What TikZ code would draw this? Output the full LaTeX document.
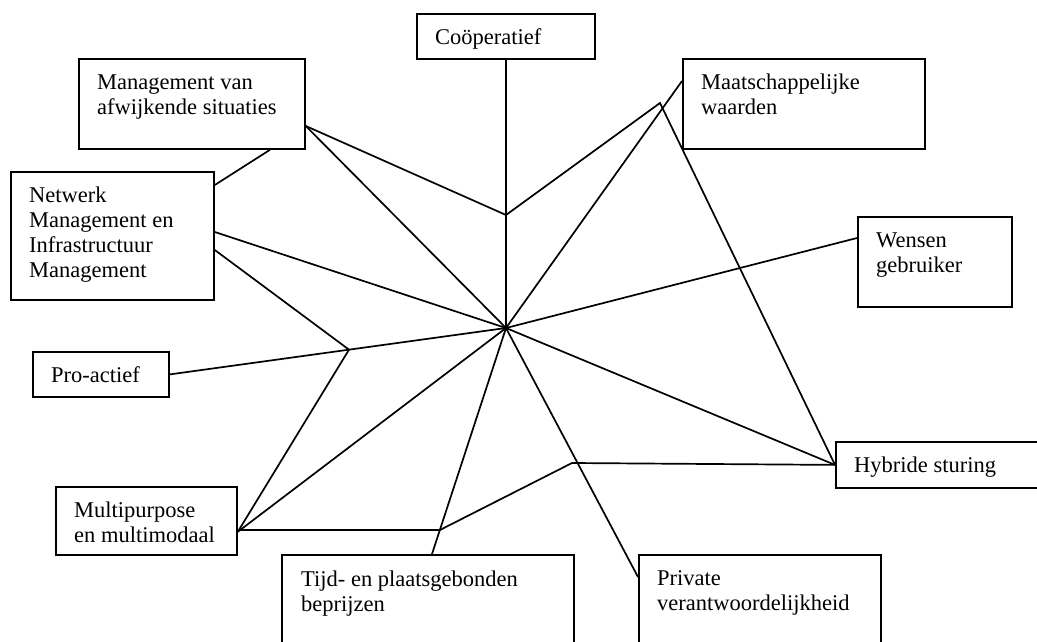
\documentclass[tikz,border=0pt]{standalone}
\usepackage{fontspec}
\setmainfont{Liberation Serif}
\usetikzlibrary{calc}
\newcommand{\fl}{\rule{0pt}{17.5pt}}
\tikzset{
  box/.style={draw, rectangle, anchor=north west, inner sep=0pt, line width=1.8pt},
  lbl/.style={anchor=north west, align=left, inner sep=0pt, font=\fontsize{22.5}{25}\selectfont},
  link/.style={line width=1.7pt, line join=miter}
}
\begin{document}
\begin{tikzpicture}[x=1pt, y=-1pt]
\clip (0,0) rectangle (1037,642);
\fill[white] (0,0) rectangle (1037,642);
% boxes
\node[box, minimum width=178pt, minimum height=45pt] (coop) at (416,13) {};
\node[box, minimum width=226pt, minimum height=90pt] (mgmt) at (78,58) {};
\node[box, minimum width=203pt, minimum height=128pt] (net) at (10,171) {};
\node[box, minimum width=242pt, minimum height=90pt] (maat) at (682,58) {};
\node[box, minimum width=154pt, minimum height=90pt] (wens) at (857,216) {};
\node[box, minimum width=136pt, minimum height=45pt] (pro) at (32,351) {};
\node[box, minimum width=181pt, minimum height=68pt] (multi) at (55,486) {};
\node[box, minimum width=292pt, minimum height=120pt] (tijd) at (281,554) {};
\node[box, minimum width=250pt, minimum height=46pt] (hyb) at (835,441) {};
\node[box, minimum width=242pt, minimum height=120pt] (priv) at (638,554) {};
% labels (first baseline 31pt below box top)
\node[lbl] (tcoop) at ($(coop.north west)+(19,13.5)$) {\fl Coöperatief};
\node[lbl] (tmgmt) at ($(mgmt.north west)+(19,13.5)$) {\fl Management van\\afwijkende situaties};
\node[lbl] (tnet) at ($(net.north west)+(19,13.5)$) {\fl Netwerk\\Management en\\Infrastructuur\\Management};
\node[lbl] (tmaat) at ($(maat.north west)+(19,13.5)$) {\fl Maatschappelijke\\waarden};
\node[lbl] (twens) at ($(wens.north west)+(19,13.5)$) {\fl Wensen\\gebruiker};
\node[lbl] (tpro) at ($(pro.north west)+(19,13.5)$) {\fl Pro-actief};
\node[lbl] (tmulti) at ($(multi.north west)+(19,13.5)$) {\fl Multipurpose\\en multimodaal};
\node[lbl] (ttijd) at ($(tijd.north west)+(20,14.5)$) {\fl Tijd- en plaatsgebonden\\beprijzen};
\node[lbl] (thyb) at ($(hyb.north west)+(19,13.5)$) {\fl Hybride sturing};
\node[lbl] (tpriv) at ($(priv.north west)+(19,13.5)$) {\fl Private\\verantwoordelijkheid};
% points
\coordinate (c) at (506,328);
\coordinate (j1) at (506,215);
\coordinate (k) at (660,103);
\coordinate (mgmtR) at ($(mgmt.north east)+(0,68)$);
\coordinate (mgmtB) at ($(mgmt.south west)+(192,0)$);
\coordinate (netT) at ($(net.north east)+(0,14)$);
\coordinate (netA) at ($(net.north east)+(0,61)$);
\coordinate (netB) at ($(net.north east)+(0,79)$);
\coordinate (j2) at ($(pro.east)!0.533!(c)$);
\coordinate (multiR) at ($(multi.south east)+(0,-24)$);
\coordinate (tijdT) at ($(tijd.north west)+(151,0)$);
\coordinate (j3) at ($(tijdT)!0.106!(c)$);
\coordinate (j4) at (572,463);
\coordinate (privL) at ($(priv.north west)+(0,23)$);
\coordinate (wensL) at ($(wens.north west)+(0,22)$);
\coordinate (maatL) at ($(maat.north west)+(0,23)$);
% connectors
\draw[link] (c |- coop.south) -- (c);
\draw[link] (mgmtR) -- (j1) -- (k) -- (hyb.west);
\draw[link] (mgmtR) -- (c);
\draw[link] (mgmtB) -- (netT);
\draw[link] (netA) -- (c);
\draw[link] (netB) -- (j2) -- (multiR);
\draw[link] (pro.east) -- (c);
\draw[link] (multiR) -- (c);
\draw[link] (multiR) -- (j3 -| multiR) -- (j3) -- (j4) -- (hyb.west);
\draw[link] (tijdT) -- (c);
\draw[link] (c) -- (privL);
\draw[link] (c) -- (hyb.west);
\draw[link] (c) -- (wensL);
\draw[link] (c) -- (maatL);
\end{tikzpicture}
\end{document}
